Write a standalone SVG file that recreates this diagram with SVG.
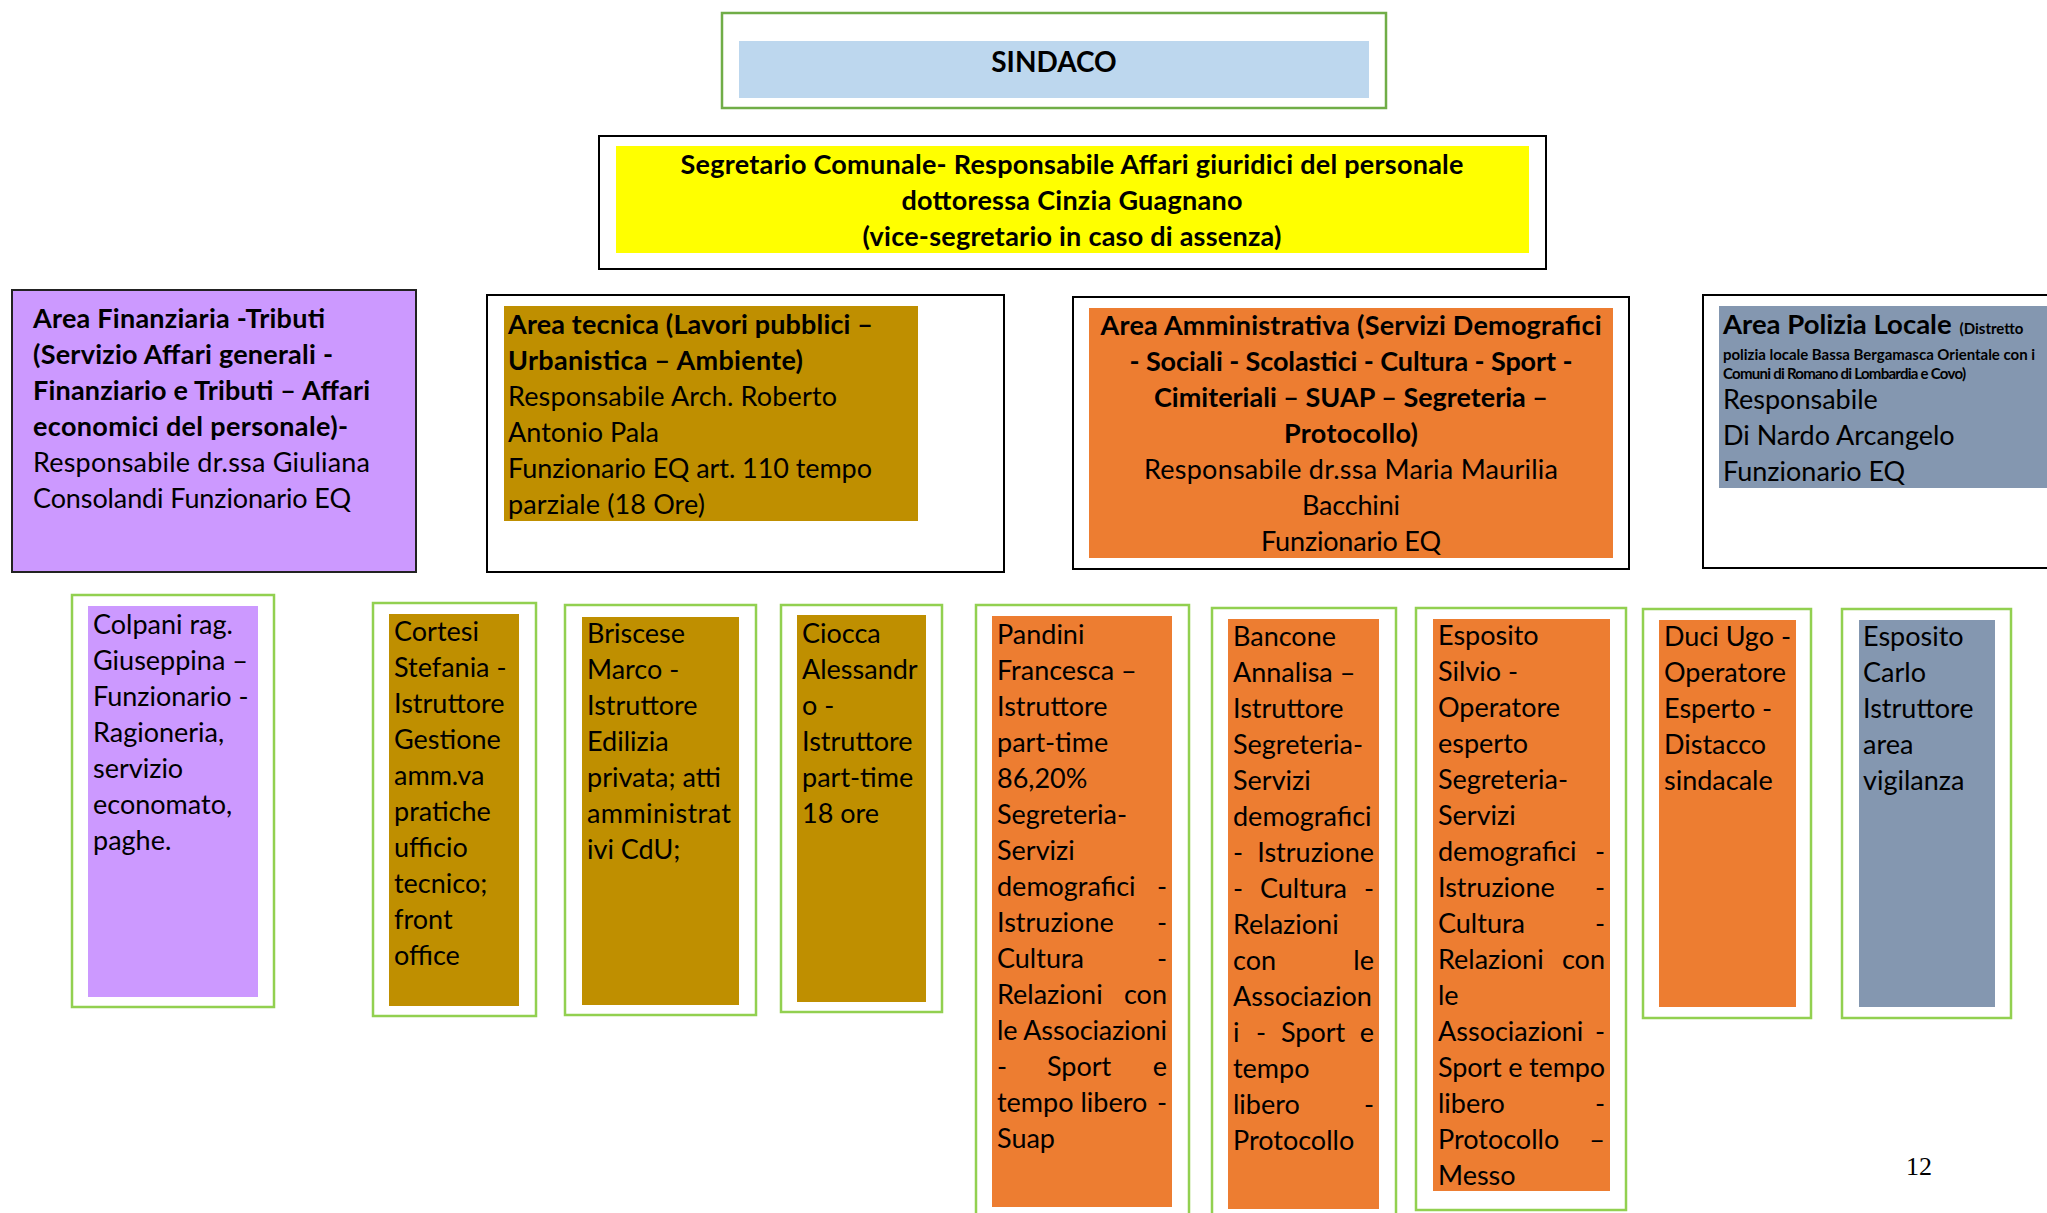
<svg xmlns="http://www.w3.org/2000/svg" width="2047" height="1213" viewBox="0 0 2047 1213">
<style>
text { font-family: Lato, "Liberation Sans", sans-serif; font-size: 27px; fill: #000; }
.b { font-weight: bold; }
.c { text-anchor: middle; }
.e { text-anchor: end; }
.sm { font-size: 15px; font-weight: bold; }
.kb { fill: #fff; stroke: #000; stroke-width: 2; }
.gb { fill: #fff; stroke: #92d050; stroke-width: 2.5; }
.pur { fill: #cc99ff; }
.gold { fill: #bf8f00; }
.org { fill: #ed7d31; }
.gry { fill: #8497b0; }
.pg { font-family: "Liberation Serif", serif; font-size: 26px; }
</style>
<rect width="2047" height="1213" fill="#fff"/>
<g id="connectors"/>

<g id="sindaco">
<rect x="722" y="13" width="664" height="95" fill="#fff" stroke="#70ad47" stroke-width="2.5"/>
<rect x="739" y="41" width="630" height="57" fill="#bdd7ee"/>
<text class="b c" x="1054" y="72" style="font-size:28px">SINDACO</text>
</g>

<g id="segretario">
<rect class="kb" x="599" y="136" width="947" height="133"/>
<rect x="616" y="146" width="913" height="107" fill="#ffff00"/>
<text class="b c" x="1072" y="174" textLength="783">Segretario Comunale- Responsabile Affari giuridici del personale</text>
<text class="b c" x="1072" y="210" textLength="341">dottoressa Cinzia Guagnano</text>
<text class="b c" x="1072" y="246" textLength="419">(vice-segretario in caso di assenza)</text>
</g>

<g id="area-finanziaria">
<rect x="12" y="290" width="404" height="282" fill="#cc99ff" stroke="#222" stroke-width="2"/>
<text class="b" x="33" y="328" textLength="292">Area Finanziaria -Tributi</text>
<text class="b" x="33" y="364" textLength="300">(Servizio Affari generali -</text>
<text class="b" x="33" y="400" textLength="337">Finanziario e Tributi – Affari</text>
<text class="b" x="33" y="436" textLength="315">economici del personale)-</text>
<text x="33" y="472" textLength="337">Responsabile dr.ssa Giuliana</text>
<text x="33" y="508" textLength="318">Consolandi Funzionario EQ</text>
</g>

<g id="area-tecnica">
<rect class="kb" x="487" y="295" width="517" height="277"/>
<rect class="gold" x="504" y="306" width="414" height="215"/>
<text class="b" x="508" y="334" textLength="365">Area tecnica (Lavori pubblici –</text>
<text class="b" x="508" y="370" textLength="295">Urbanistica – Ambiente)</text>
<text x="508" y="406" textLength="329">Responsabile Arch. Roberto</text>
<text x="508" y="442" textLength="151">Antonio Pala</text>
<text x="508" y="478" textLength="364">Funzionario EQ art. 110 tempo</text>
<text x="508" y="514" textLength="197">parziale (18 Ore)</text>
</g>

<g id="area-amministrativa">
<rect class="kb" x="1073" y="297" width="556" height="272"/>
<rect class="org" x="1089" y="308" width="524" height="250"/>
<text class="b c" x="1351" y="335" textLength="501">Area Amministrativa (Servizi Demografici</text>
<text class="b c" x="1351" y="371" textLength="443">- Sociali - Scolastici - Cultura - Sport -</text>
<text class="b c" x="1351" y="407" textLength="394">Cimiteriali – SUAP – Segreteria –</text>
<text class="b c" x="1351" y="443" textLength="134">Protocollo)</text>
<text class="c" x="1351" y="479" textLength="414">Responsabile dr.ssa Maria Maurilia</text>
<text class="c" x="1351" y="515" textLength="98">Bacchini</text>
<text class="c" x="1351" y="551" textLength="180">Funzionario EQ</text>
</g>

<g id="area-polizia">
<rect class="kb" x="1703" y="295" width="360" height="273"/>
<rect class="gry" x="1719" y="306" width="330" height="182"/>
<text class="b" x="1723" y="334"><tspan style="font-size:27.5px">Area Polizia Locale</tspan><tspan class="sm" dx="8">(Distretto</tspan></text>
<text class="sm" x="1723" y="360" textLength="312">polizia locale Bassa Bergamasca Orientale con i</text>
<text class="sm" x="1723" y="379" textLength="243">Comuni di Romano di Lombardia e Covo)</text>
<text x="1723" y="409">Responsabile</text>
<text x="1723" y="445">Di Nardo Arcangelo</text>
<text x="1723" y="481">Funzionario EQ</text>
</g>

<g id="colpani">
<rect class="gb" x="72" y="595" width="202" height="412"/>
<rect class="pur" x="88" y="606" width="170" height="391"/>
<text x="93" y="634">Colpani rag.</text>
<text x="93" y="670">Giuseppina –</text>
<text x="93" y="706">Funzionario -</text>
<text x="93" y="742">Ragioneria,</text>
<text x="93" y="778">servizio</text>
<text x="93" y="814">economato,</text>
<text x="93" y="850">paghe.</text>
</g>

<g id="cortesi">
<rect class="gb" x="373" y="603" width="163" height="413"/>
<rect class="gold" x="389" y="614" width="130" height="392"/>
<text x="394" y="641">Cortesi</text>
<text x="394" y="677">Stefania -</text>
<text x="394" y="713">Istruttore</text>
<text x="394" y="749">Gestione</text>
<text x="394" y="785">amm.va</text>
<text x="394" y="821">pratiche</text>
<text x="394" y="857">ufficio</text>
<text x="394" y="893">tecnico;</text>
<text x="394" y="929">front</text>
<text x="394" y="965">office</text>
</g>

<g id="briscese">
<rect class="gb" x="565" y="605" width="191" height="410"/>
<rect class="gold" x="582" y="617" width="157" height="388"/>
<text x="587" y="643">Briscese</text>
<text x="587" y="679">Marco -</text>
<text x="587" y="715">Istruttore</text>
<text x="587" y="751">Edilizia</text>
<text x="587" y="787">privata; atti</text>
<text x="587" y="823" textLength="144">amministrat</text>
<text x="587" y="859">ivi CdU;</text>
</g>

<g id="ciocca">
<rect class="gb" x="781" y="605" width="161" height="407"/>
<rect class="gold" x="797" y="615" width="129" height="387"/>
<text x="802" y="643">Ciocca</text>
<text x="802" y="679">Alessandr</text>
<text x="802" y="715">o -</text>
<text x="802" y="751">Istruttore</text>
<text x="802" y="787">part-time</text>
<text x="802" y="823">18 ore</text>
</g>

<g id="pandini">
<rect class="gb" x="976" y="605" width="213" height="620"/>
<rect class="org" x="992" y="616" width="180" height="591"/>
<text x="997" y="644">Pandini</text>
<text x="997" y="680">Francesca –</text>
<text x="997" y="716">Istruttore</text>
<text x="997" y="752">part-time</text>
<text x="997" y="788">86,20%</text>
<text x="997" y="824">Segreteria-</text>
<text x="997" y="860">Servizi</text>
<text x="997" y="896">demografici</text><text class="e" x="1167" y="896">-</text>
<text x="997" y="932">Istruzione</text><text class="e" x="1167" y="932">-</text>
<text x="997" y="968">Cultura</text><text class="e" x="1167" y="968">-</text>
<text x="997" y="1004">Relazioni</text><text class="e" x="1167" y="1004">con</text>
<text x="997" y="1040" textLength="170">le Associazioni</text>
<text x="997" y="1076">-</text><text x="1047" y="1076">Sport</text><text class="e" x="1167" y="1076">e</text>
<text x="997" y="1112">tempo libero</text><text class="e" x="1167" y="1112">-</text>
<text x="997" y="1148">Suap</text>
</g>

<g id="bancone">
<rect class="gb" x="1212" y="608" width="184" height="617"/>
<rect class="org" x="1228" y="619" width="151" height="590"/>
<text x="1233" y="646">Bancone</text>
<text x="1233" y="682">Annalisa –</text>
<text x="1233" y="718">Istruttore</text>
<text x="1233" y="754">Segreteria-</text>
<text x="1233" y="790">Servizi</text>
<text x="1233" y="826">demografici</text>
<text x="1233" y="862">-</text><text class="e" x="1374" y="862">Istruzione</text>
<text x="1233" y="898">-</text><text x="1260" y="898">Cultura</text><text class="e" x="1374" y="898">-</text>
<text x="1233" y="934">Relazioni</text>
<text x="1233" y="970">con</text><text class="e" x="1374" y="970">le</text>
<text x="1233" y="1006">Associazion</text>
<text x="1233" y="1042">i</text><text x="1256" y="1042">-</text><text x="1281" y="1042">Sport</text><text class="e" x="1374" y="1042">e</text>
<text x="1233" y="1078">tempo</text>
<text x="1233" y="1114">libero</text><text class="e" x="1374" y="1114">-</text>
<text x="1233" y="1150">Protocollo</text>
</g>

<g id="esposito-silvio">
<rect class="gb" x="1416" y="608" width="210" height="602"/>
<rect class="org" x="1433" y="619" width="177" height="572"/>
<text x="1438" y="645">Esposito</text>
<text x="1438" y="681">Silvio -</text>
<text x="1438" y="717">Operatore</text>
<text x="1438" y="753">esperto</text>
<text x="1438" y="789">Segreteria-</text>
<text x="1438" y="825">Servizi</text>
<text x="1438" y="861">demografici</text><text class="e" x="1605" y="861">-</text>
<text x="1438" y="897">Istruzione</text><text class="e" x="1605" y="897">-</text>
<text x="1438" y="933">Cultura</text><text class="e" x="1605" y="933">-</text>
<text x="1438" y="969">Relazioni</text><text class="e" x="1605" y="969">con</text>
<text x="1438" y="1005">le</text>
<text x="1438" y="1041">Associazioni</text><text class="e" x="1605" y="1041">-</text>
<text x="1438" y="1077" textLength="167">Sport e tempo</text>
<text x="1438" y="1113">libero</text><text class="e" x="1605" y="1113">-</text>
<text x="1438" y="1149">Protocollo</text><text class="e" x="1605" y="1149">–</text>
<text x="1438" y="1185">Messo</text>
</g>

<g id="duci">
<rect class="gb" x="1643" y="609" width="168" height="409"/>
<rect class="org" x="1659" y="620" width="137" height="387"/>
<text x="1664" y="646">Duci Ugo -</text>
<text x="1664" y="682">Operatore</text>
<text x="1664" y="718">Esperto -</text>
<text x="1664" y="754">Distacco</text>
<text x="1664" y="790">sindacale</text>
</g>

<g id="esposito-carlo">
<rect class="gb" x="1842" y="609" width="169" height="409"/>
<rect class="gry" x="1859" y="620" width="136" height="387"/>
<text x="1863" y="646">Esposito</text>
<text x="1863" y="682">Carlo</text>
<text x="1863" y="718">Istruttore</text>
<text x="1863" y="754">area</text>
<text x="1863" y="790">vigilanza</text>
</g>

<text class="pg" x="1906" y="1175">12</text>
</svg>
